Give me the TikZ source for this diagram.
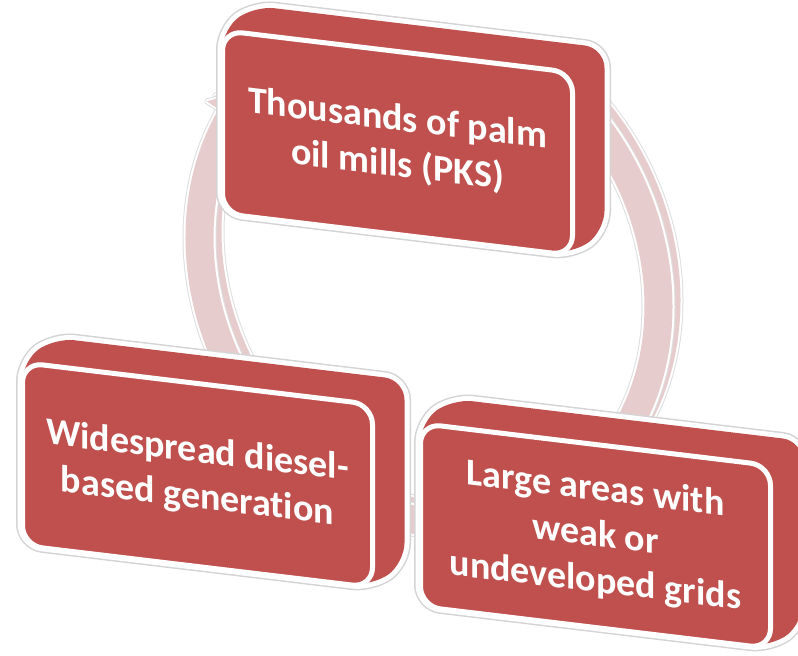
\documentclass[tikz,border=0pt]{standalone}
\usepackage{fontspec}
\setmainfont{Carlito}[RawFeature=-liga]
\definecolor{boxred}{RGB}{192,80,77}
\definecolor{ringpink}{RGB}{231,204,205}
\definecolor{edgegray}{RGB}{212,212,212}
\definecolor{ringgray}{RGB}{222,222,222}
\tikzset{
  silA/.style={draw=edgegray, line width=13pt, rounded corners=20pt},
  silB/.style={draw=white, line width=10pt, rounded corners=20pt},
  silC/.style={fill=boxred, rounded corners=20pt},
  facebox/.style={draw=white, line width=5pt, fill=boxred, rounded corners=20pt,
    minimum width=350pt, minimum height=183pt, inner sep=0pt, transform shape,
    text=white, align=center, font=\bfseries\fontsize{38}{46}\selectfont},
}
% #1 name, #2 x, #3 y (image coordinates of front face top-left), #4 text
\newcommand\cycbox[4]{%
  \begin{scope}[shift={(#2,-#3)}, yslant=-0.12]
    \foreach \st in {silA,silB,silC}
      \path[\st] (0,0) -- (32,27) -- (382,27) -- (382,-156) -- (350,-183) -- (0,-183) -- cycle;
    \node[facebox] (#1) at (175,-93) {#4};
  \end{scope}}
% ring pass: #1 colour, #2 extra width
\newcommand\ringpass[2]{%
  \draw[#1, line width=28pt+#2]
    ({229.5*cos(230)},{250.5*sin(230)}) arc[start angle=230, end angle=150, x radius=229.5, y radius=250.5];
  \draw[#1, line width=28pt+#2]
    ({229.5*cos(65)},{250.5*sin(65)}) arc[start angle=65, end angle=-50, x radius=229.5, y radius=250.5];
  \draw[#1, line width=28pt+#2]
    ({229.5*cos(-80)},{250.5*sin(-80)}) arc[start angle=-80, end angle=-100, x radius=229.5, y radius=250.5];
  \filldraw[#1, line width=#2, line join=round]
    (-221.8,137.4) -- (-183.8,153.5) -- (-175.8,113.1) -- cycle;}
\begin{document}
\begin{tikzpicture}[x=1pt,y=1pt]
  \useasboundingbox (0,0) rectangle (798,-656);
  % ring with depth
  \begin{scope}[shift={(429,-272)}, yslant=-0.15]
    \foreach \dx/\dy in {8/7, 0/0} {
      \begin{scope}[shift={(\dx,\dy)}]
        \ringpass{ringgray}{6pt}
        \ringpass{white}{4pt}
        \ringpass{ringpink}{0.01pt}
      \end{scope}
    }
  \end{scope}
  \cycbox{mills}{222.5}{29}{Thousands of palm\\oil mills (PKS)}
  \cycbox{diesel}{22.5}{361}{Widespread diesel-\\based generation}
  \cycbox{grids}{420.5}{422}{Large areas with\\weak or\\undeveloped grids}
\end{tikzpicture}
\end{document}
